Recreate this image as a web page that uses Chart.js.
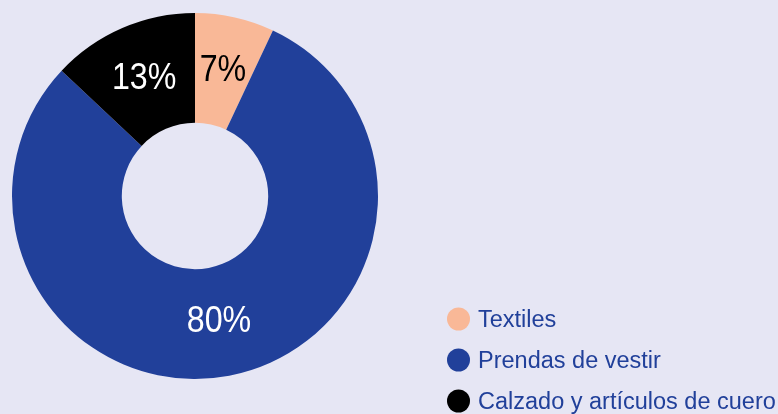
<!DOCTYPE html>
<html>
<head>
<meta charset="utf-8">
<style>
    html, body { margin: 0; padding: 0; background: #e6e6f4; }
    #wrap { width: 778px; height: 414px; position: relative; }
</style>
</head>
<body>
<div id="wrap">
    <canvas id="myChart" width="778" height="414"></canvas>
</div>

<script src="https://cdn.jsdelivr.net/npm/chart.js"></script>
<script>
    // Datos del gráfico
    var categorias = ['Textiles', 'Prendas de vestir', 'Calzado y artículos de cuero'];
    var porcentajes = [7, 80, 13];
    var colores = ['#f9b897', '#21409a', '#000000'];
    var coloresEtiqueta = ['#000000', '#ffffff', '#ffffff'];

    // Etiquetas de porcentaje dentro de cada sector (letra algo condensada)
    var etiquetasPlugin = {
        id: 'etiquetas',
        afterDatasetsDraw: function(chart) {
            var ctx = chart.ctx;
            var meta = chart.getDatasetMeta(0);
            meta.data.forEach(function(arc, i) {
                var p = arc.tooltipPosition();
                ctx.save();
                ctx.font = '37px "Liberation Sans", Arial, sans-serif';
                ctx.textAlign = 'center';
                ctx.textBaseline = 'middle';
                ctx.translate(p.x, p.y);
                ctx.scale(0.87, 1);
                ctx.fillStyle = coloresEtiqueta[i];
                ctx.fillText(porcentajes[i] + '%', 0, 0);
                ctx.restore();
            });
        }
    };

    // Leyenda abajo a la derecha con marcadores circulares
    var leyendaPlugin = {
        id: 'leyenda',
        afterDraw: function(chart) {
            var ctx = chart.ctx;
            ctx.save();
            ctx.font = '23.5px "Liberation Sans", Arial, sans-serif';
            ctx.textAlign = 'left';
            ctx.textBaseline = 'middle';
            categorias.forEach(function(nombre, i) {
                var y = 319 + i * 41;
                ctx.beginPath();
                ctx.arc(458.5, y, 11.5, 0, Math.PI * 2);
                ctx.fillStyle = colores[i];
                ctx.fill();
                ctx.fillStyle = '#21409a';
                ctx.fillText(nombre, 478, y + 2);
            });
            ctx.restore();
        }
    };

    var ctx = document.getElementById('myChart').getContext('2d');
    var chart = new Chart(ctx, {
        type: 'doughnut',
        data: {
            labels: categorias,
            datasets: [{
                data: porcentajes,
                backgroundColor: colores,
                borderWidth: 0
            }]
        },
        options: {
            responsive: false,
            animation: false,
            cutout: '40%',
            layout: {
                padding: { left: 12, top: 13, right: 400, bottom: 35 }
            },
            plugins: {
                legend: { display: false },
                tooltip: { enabled: false }
            }
        },
        plugins: [etiquetasPlugin, leyendaPlugin]
    });
</script>
</body>
</html>
